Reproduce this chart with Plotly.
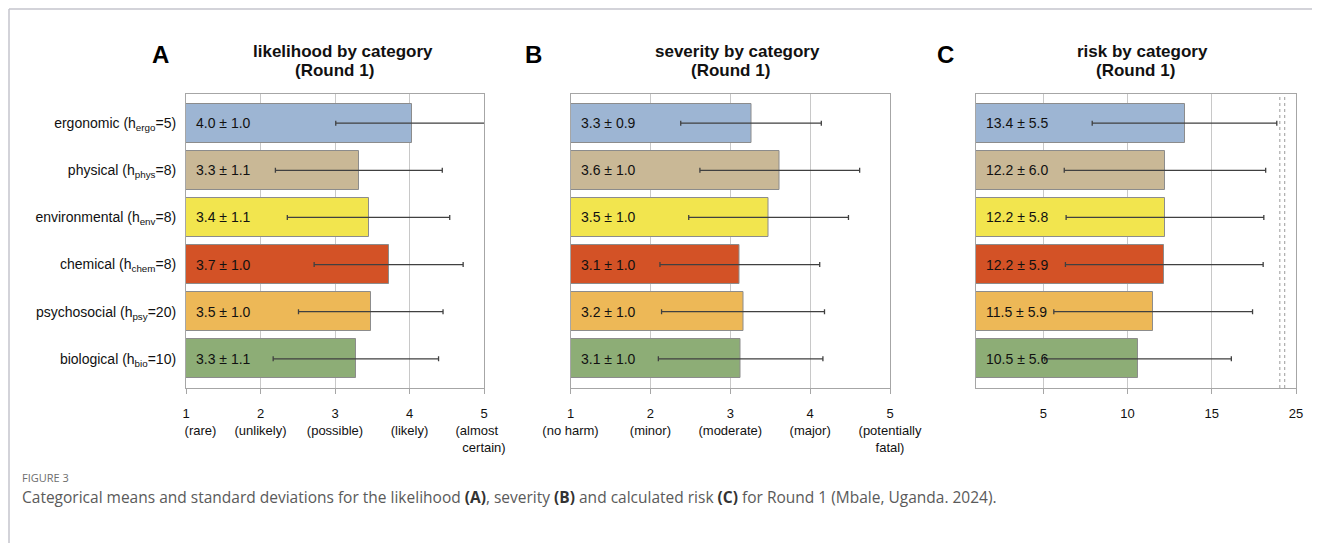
import plotly.graph_objects as go

# page body adds an 8px margin; the figure is sized so it fits the 1320x543 window
OFF = 8
W, H = 1320 - OFF, 543 - OFF

# ---------------- data ----------------
categories = ["ergonomic", "physical", "environmental", "chemical", "psychosocial", "biological"]
category_labels = [
    "ergonomic (h<sub>ergo</sub>=5)",
    "physical (h<sub>phys</sub>=8)",
    "environmental (h<sub>env</sub>=8)",
    "chemical (h<sub>chem</sub>=8)",
    "psychosocial (h<sub>psy</sub>=20)",
    "biological (h<sub>bio</sub>=10)",
]

likelihood_mean = [4.03, 3.32, 3.45, 3.72, 3.48, 3.28]
likelihood_sd = [1.02, 1.12, 1.09, 1.00, 0.97, 1.11]
likelihood_text = ["4.0 ± 1.0", "3.3 ± 1.1", "3.4 ± 1.1", "3.7 ± 1.0", "3.5 ± 1.0", "3.3 ± 1.1"]

severity_mean = [3.26, 3.62, 3.48, 3.12, 3.16, 3.13]
severity_sd = [0.88, 1.00, 1.00, 1.00, 1.02, 1.03]
severity_text = ["3.3 ± 0.9", "3.6 ± 1.0", "3.5 ± 1.0", "3.1 ± 1.0", "3.2 ± 1.0", "3.1 ± 1.0"]

risk_mean = [13.38, 12.22, 12.22, 12.18, 11.52, 10.62]
risk_sd = [5.48, 5.98, 5.87, 5.87, 5.90, 5.54]
risk_text = ["13.4 ± 5.5", "12.2 ± 6.0", "12.2 ± 5.8", "12.2 ± 5.9", "11.5 ± 5.9", "10.5 ± 5.6"]

likelihood_tickvals = [1, 2, 3, 4, 5]
likelihood_ticktext = ["1<br>\u00a0\u00a0\u00a0\u00a0\u00a0\u00a0\u00a0\u00a0(rare)", "2<br>(unlikely)", "3<br>(possible)",
                       "4<br>(likely)", "5<br>(almost\u00a0\u00a0\u00a0\u00a0<br>certain)"]
severity_tickvals = [1, 2, 3, 4, 5]
severity_ticktext = ["1<br>(no harm)", "2<br>(minor)", "3<br>(moderate)", "4<br>(major)",
                     "5<br>(potentially<br>fatal)"]
risk_tickvals = [5, 10, 15, 20]
risk_ticktext = ["5", "10", "15", "25"]

panel_titles = ["likelihood by category", "severity by category", "risk by category"]
panel_letters = ["A", "B", "C"]

colors = ["#9db5d3", "#c9b896", "#f2e54e", "#d35226", "#edb857", "#8dad76"]

# ---------------- layout helpers ----------------
FONT = "Arial, Liberation Sans, sans-serif"


def px(x):
    return (x - OFF) / W


def py(y):
    return 1 - (y - OFF) / H


plot_top, plot_bottom = 94, 388
panels = [
    dict(mean=likelihood_mean, sd=likelihood_sd, text=likelihood_text, xr=[1, 5],
         tv=likelihood_tickvals, tt=likelihood_ticktext, dom=(186, 484),
         t1=343, t2=334, letter=160),
    dict(mean=severity_mean, sd=severity_sd, text=severity_text, xr=[1, 5],
         tv=severity_tickvals, tt=severity_ticktext, dom=(570.5, 890),
         t1=737, t2=730, letter=533),
    dict(mean=risk_mean, sd=risk_sd, text=risk_text, xr=[1, 20],
         tv=risk_tickvals, tt=risk_ticktext, dom=(976, 1296),
         t1=1142, t2=1135, letter=945),
]

fig = go.Figure()
layout = dict(
    template="none",
    width=W, height=H, autosize=False,
    margin=dict(l=0, r=0, t=0, b=0, pad=0),
    paper_bgcolor="white", plot_bgcolor="white",
    showlegend=False,
    font=dict(family=FONT, size=14, color="#111"),
    bargap=0,
)

annotations = []
shapes = []

for i, p in enumerate(panels):
    sfx = "" if i == 0 else str(i + 1)
    xa, ya = "x" + sfx, "y" + sfx
    fig.add_trace(go.Bar(
        y=categories, x=p["mean"], orientation="h",
        marker=dict(color=colors, line=dict(color="#8c8c8c", width=1)),
        width=0.83,
        error_x=dict(type="data", array=p["sd"], color="#404040", thickness=1.3, width=2.5),
        xaxis=xa, yaxis=ya, hoverinfo="skip", cliponaxis=True,
    ))
    layout["xaxis" + sfx] = dict(
        domain=[px(p["dom"][0]), px(p["dom"][1])], range=p["xr"], anchor=ya,
        automargin=False,
        tickmode="array", tickvals=p["tv"], ticktext=p["tt"],
        showgrid=True, gridcolor="#c8c8c8", gridwidth=1,
        showline=True, linecolor="#a6a6a6", linewidth=1.2, mirror=True,
        ticks="outside", ticklen=5, tickcolor="#a6a6a6",
        tickfont=dict(family=FONT, size=13, color="#111"),
        ticklabelstandoff=8, zeroline=False, fixedrange=True,
    )
    layout["yaxis" + sfx] = dict(
        domain=[py(plot_bottom), py(plot_top)], anchor=xa,
        automargin=False,
        type="category", categoryorder="array", categoryarray=categories,
        range=[5.62, -0.62],
        showgrid=False, showline=True, linecolor="#a6a6a6", linewidth=1.2, mirror=True,
        ticks="", showticklabels=(i == 0),
        tickmode="array", tickvals=categories, ticktext=category_labels,
        tickfont=dict(family=FONT, size=14, color="#111"),
        ticklabelstandoff=6, zeroline=False, fixedrange=True,
    )
    # value labels inside bars
    for c, lab in zip(categories, p["text"]):
        annotations.append(dict(
            x=p["xr"][0], y=c, xref=xa, yref=ya, text=lab, showarrow=False,
            xanchor="left", xshift=8, yanchor="middle",
            font=dict(family=FONT, size=14, color="#111"),
        ))
    # panel titles
    annotations.append(dict(x=px(p["t1"]), y=py(52), xref="paper", yref="paper",
                            text="<b>" + panel_titles[i] + "</b>", showarrow=False,
                            xanchor="center", yanchor="middle",
                            font=dict(family=FONT, size=17, color="#111")))
    annotations.append(dict(x=px(p["t2"]), y=py(71), xref="paper", yref="paper",
                            text="<b>(Round 1)</b>", showarrow=False,
                            xanchor="center", yanchor="middle",
                            font=dict(family=FONT, size=17, color="#111")))
    annotations.append(dict(x=px(p["letter"]), y=py(55), xref="paper", yref="paper",
                            text="<b>" + panel_letters[i] + "</b>", showarrow=False,
                            xanchor="center", yanchor="middle",
                            font=dict(family=FONT, size=24, color="#000")))

# axis-break marks in panel C
for xb in (19.04, 19.33):
    shapes.append(dict(type="line", xref="x3", yref="y3 domain", x0=xb, x1=xb, y0=0, y1=1,
                       line=dict(color="#9a9a9a", width=1, dash="dot")))

# page frame
shapes.append(dict(type="line", xref="paper", yref="paper", x0=px(9), x1=1, y0=py(9), y1=py(9),
                   line=dict(color="#c4c4cc", width=1.5)))
shapes.append(dict(type="line", xref="paper", yref="paper", x0=px(9), x1=px(9), y0=0, y1=py(9),
                   line=dict(color="#c4c4cc", width=1.5)))

# caption
CAP = "Open Sans, Noto Sans, sans-serif"
annotations.append(dict(x=px(20), y=py(477), xref="paper", yref="paper", text="FIGURE 3",
                        showarrow=False, xanchor="left", yanchor="middle",
                        font=dict(family=CAP, size=11, color="#6d6d6d")))
annotations.append(dict(
    x=px(20), y=py(497), xref="paper", yref="paper",
    text=("Categorical means and standard deviations for the likelihood <b><span style='color:#333'>(A)</span></b>, "
          "severity <b><span style='color:#333'>(B)</span></b> and calculated risk "
          "<b><span style='color:#333'>(C)</span></b> for Round 1 (Mbale, Uganda. 2024)."),
    showarrow=False, xanchor="left", yanchor="middle",
    font=dict(family=CAP, size=15.5, color="#5a5a5a")))

layout["annotations"] = annotations
layout["shapes"] = shapes
fig.update_layout(**layout)

fig.write_html("out.html")
